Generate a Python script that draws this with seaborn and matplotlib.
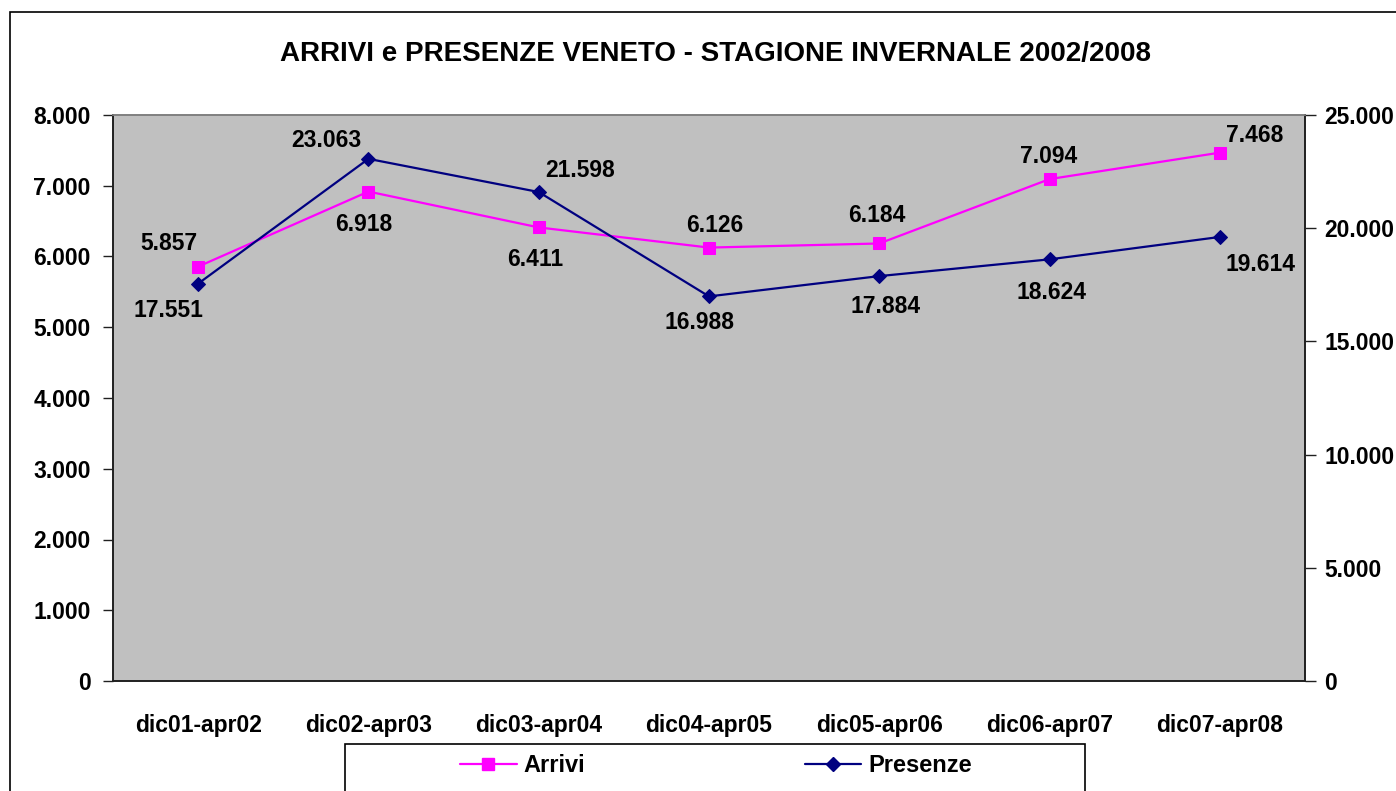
import matplotlib
matplotlib.use("Agg")
import matplotlib.pyplot as plt
import seaborn as sns
import pandas as pd
from matplotlib.ticker import FuncFormatter, FixedLocator, MultipleLocator
from matplotlib.patches import Rectangle
from matplotlib.lines import Line2D

categories = ["dic01-apr02", "dic02-apr03", "dic03-apr04", "dic04-apr05",
              "dic05-apr06", "dic06-apr07", "dic07-apr08"]
arrivi = [5857, 6918, 6411, 6126, 6184, 7094, 7468]
presenze = [17551, 23063, 21598, 16988, 17884, 18624, 19614]
title = "ARRIVI e PRESENZE VENETO - STAGIONE INVERNALE 2002/2008"

sns.set_style("white")
plt.rcParams['font.family'] = ['Liberation Sans', 'DejaVu Sans']
plt.rcParams['font.weight'] = 'bold'
plt.rcParams['text.color'] = 'black'
plt.rcParams['xtick.color'] = 'black'
plt.rcParams['ytick.color'] = 'black'
plt.rcParams['xtick.labelcolor'] = 'black'
plt.rcParams['ytick.labelcolor'] = 'black'

df = pd.DataFrame({"pos": range(len(categories)), "cat": categories,
                   "Arrivi": arrivi, "Presenze": presenze})

W, H = 1396, 791
fig = plt.figure(figsize=(W / 100, H / 100), dpi=100)
fig.patch.set_facecolor("white")
ax = fig.add_axes([113 / W, 1 - 681 / H, (1305 - 113) / W, (681 - 115) / H])
ax.set_facecolor("#C0C0C0")
ax2 = ax.twinx()

pink = "#FF00FF"
navy = "#000080"

sns.lineplot(data=df, x="pos", y="Arrivi", ax=ax, color=pink, marker="s",
             markersize=9, markeredgecolor=pink, linewidth=1.6, legend=False, zorder=3)
sns.lineplot(data=df, x="pos", y="Presenze", ax=ax2, color=navy, marker="D",
             markersize=7, markeredgecolor=navy, linewidth=1.6, legend=False, zorder=3)

ax.set_xlim(-0.5, len(categories) - 0.5)
ax.set_ylim(0, 8000)
ax2.set_ylim(0, 25000)
ax.yaxis.set_major_locator(MultipleLocator(1000))
ax2.yaxis.set_major_locator(MultipleLocator(5000))

fmt = FuncFormatter(lambda v, p: f"{int(round(v)):,}".replace(",", "."))
ax.yaxis.set_major_formatter(fmt)
ax2.yaxis.set_major_formatter(fmt)

ax.xaxis.set_major_locator(FixedLocator(list(df["pos"])))
ax.set_xticklabels(categories)
ax.xaxis.set_minor_locator(FixedLocator([i - 0.5 for i in range(len(categories) + 1)]))
ax.tick_params(axis="x", which="major", length=0, pad=24, labelsize=16.5, labelcolor="black")
ax.tick_params(axis="x", which="minor", length=13, direction="inout", width=1, color="#202020")
ax.tick_params(axis="y", which="major", length=7, direction="out", width=1, pad=9,
               labelsize=16.5, left=True, color="#202020", labelcolor="black")
ax2.tick_params(axis="y", which="major", length=8, direction="out", width=1, pad=6,
                labelsize=16.5, right=True, color="#202020", labelcolor="black")
ax.set_xlabel("")
ax.set_ylabel("")
ax2.set_ylabel("")
for lab in ax.get_xticklabels() + ax.get_yticklabels() + ax2.get_yticklabels():
    lab.set_fontweight("bold")

for a in (ax, ax2):
    a.spines["top"].set_color("#808080")
    a.spines["left"].set_color("#202020")
    a.spines["right"].set_color("#202020")
    a.spines["bottom"].set_color("#202020")
    for s in a.spines.values():
        s.set_linewidth(1.2)
    a.grid(False)

# data labels (offsets in pixels)
arr_off = [(-29, 23), (-5, -33), (-4, -32), (6, 22), (-2, 28), (-1, 23), (35, 17)]
pre_off = [(-30, -27), (-42, 18), (41, 22), (-10, -26), (6, -30), (2, -33), (41, -28)]
for i, v in enumerate(arrivi):
    ax.annotate(f"{v:,}".replace(",", "."), (i, v), xytext=arr_off[i],
                textcoords="offset pixels", ha="center", va="center",
                fontsize=16.5, fontweight="bold", color="black", zorder=5)
for i, v in enumerate(presenze):
    ax2.annotate(f"{v:,}".replace(",", "."), (i, v), xytext=pre_off[i],
                 textcoords="offset pixels", ha="center", va="center",
                 fontsize=16.5, fontweight="bold", color="black", zorder=5)

fig.text(716 / W, 1 - 54 / H, title, ha="center", va="center",
         fontsize=20, fontweight="bold", color="black")

# figure border
fig.patches.append(Rectangle((10 / W, -0.1), 1.2, 1 - 12 / H + 0.1,
                             transform=fig.transFigure, fill=False,
                             edgecolor="black", linewidth=1.2, zorder=0))
# legend box
fig.patches.append(Rectangle((345 / W, -0.1), (1085 - 345) / W, (791 - 744) / H + 0.1,
                             transform=fig.transFigure, facecolor="white",
                             edgecolor="black", linewidth=1.2, zorder=1))
handles = [Line2D([], [], color=pink, marker="s", markersize=9, linewidth=1.6),
           Line2D([], [], color=navy, marker="D", markersize=7, linewidth=1.6)]
leg = fig.legend(handles, ["Arrivi", "Presenze"], loc="center",
                 bbox_to_anchor=(716 / W, 1 - 766 / H), ncol=2, frameon=False,
                 handlelength=2.4, handletextpad=0.3,
                 columnspacing=9.3, prop={"weight": "bold", "size": 17})
for t in leg.get_texts():
    t.set_color("black")
leg.set_zorder(5)

fig.savefig("out.png", dpi=100, facecolor="white")
